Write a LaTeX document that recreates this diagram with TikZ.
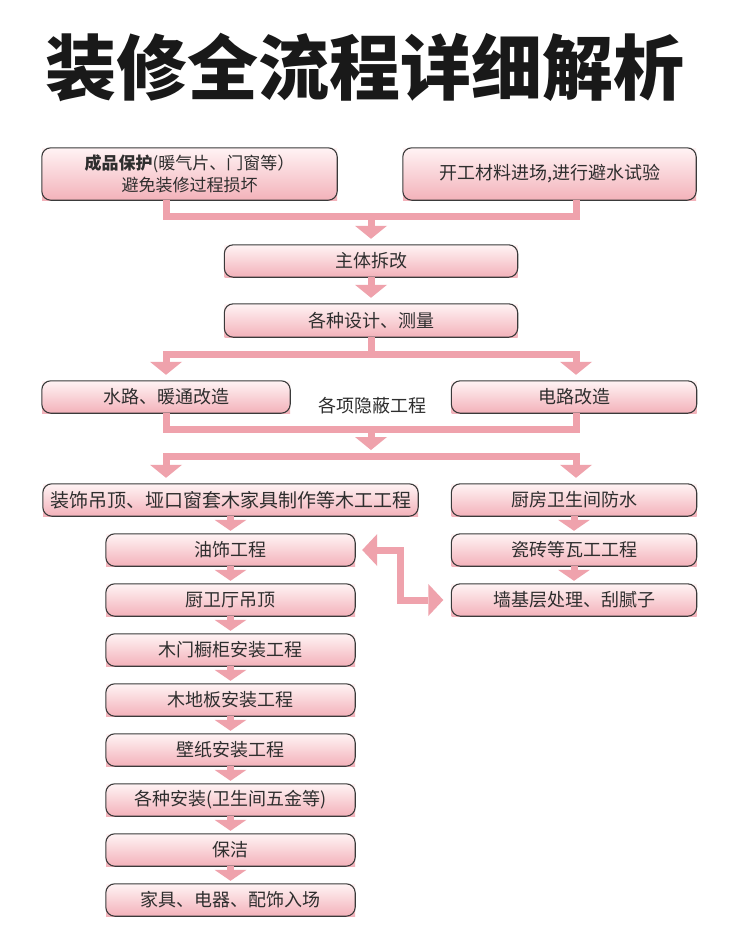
\documentclass[tikz,border=0pt]{standalone}
\usepackage{fontspec}
\newfontfamily\cjk{Noto Sans CJK SC}
\usetikzlibrary{arrows.meta,calc}
\definecolor{boxtop}{HTML}{FFF3F4}
\definecolor{boxbot}{HTML}{F3B2BA}
\definecolor{conn}{HTML}{EFA2AC}
\definecolor{txt}{HTML}{2E2E2E}
\definecolor{edge}{HTML}{3A3A3A}
\begin{document}
\begin{tikzpicture}[x=1pt,y=-1pt,
  box/.style={inner sep=0pt, minimum height=32pt, top color=boxtop, bottom color=boxbot,
    text=txt, font=\cjk\fontsize{18}{22}\selectfont, align=center},
  outline/.style={draw=edge, line width=1.1pt, rounded corners=9pt},
  link/.style={draw=conn, line width=7pt},
  arr/.style={link, -{Triangle[width=32pt,length=13pt,line width=0pt]}, shorten >=6pt},
  sarr/.style={link, -{Triangle[width=32pt,length=11pt,line width=0pt]}, shorten >=3pt},
  dbl/.style={link, {Triangle[width=32pt,length=15pt,line width=0pt]}-{Triangle[width=32pt,length=15pt,line width=0pt]}, shorten <=7pt, shorten >=8pt},
  title/.style={font=\cjk\bfseries\fontsize{71}{80}\selectfont, text=black!90}
]
\useasboundingbox (0,0) rectangle (750,942);
\fill[white] (0,0) rectangle (750,942);

\node[title] (title) at (365,68) {装修全流程详细解析};

\node[box, minimum width=295pt, minimum height=52pt, font=\cjk\fontsize{17}{22}\selectfont] (b1) at (189.5,174) {\textbf{成品保护}(暖气片、门窗等）\\避免装修过程损坏};
\node[box, minimum width=293pt, minimum height=52pt] (b2) at (549.5,174) {开工材料进场,进行避水试验};
\node[box, minimum width=293pt] (b3) at (371,261) {主体拆改};
\node[box, minimum width=293pt, minimum height=33pt] (b4) at (371,320.5) {各种设计、测量};
\node[box, minimum width=248pt] (b5) at (166,397) {水路、暖通改造};
\node[box, minimum width=245pt] (b6) at (574,397) {电路改造};
\node[text=txt, font=\cjk\fontsize{18}{22}\selectfont] (hid) at (372,406) {各项隐蔽工程};
\node[box, minimum width=375pt, font=\cjk\fontsize{19}{22}\selectfont] (b7) at (230.5,500) {装饰吊顶、垭口窗套木家具制作等木工工程};
\node[box, minimum width=245pt] (b8) at (574,500) {厨房卫生间防水};
\node[box, minimum width=249pt] (b9) at (230.5,550) {油饰工程};
\node[box, minimum width=245pt] (b10) at (574,550) {瓷砖等瓦工工程};
\node[box, minimum width=245pt] (b11) at (574,600) {墙基层处理、刮腻子};
\node[box, minimum width=249pt] (b12) at (230.5,600) {厨卫厅吊顶};
\node[box, minimum width=249pt] (b13) at (230.5,650) {木门橱柜安装工程};
\node[box, minimum width=249pt] (b14) at (230.5,700) {木地板安装工程};
\node[box, minimum width=249pt] (b15) at (230.5,750) {壁纸安装工程};
\node[box, minimum width=249pt] (b16) at (230.5,800) {各种安装(卫生间五金等)};
\node[box, minimum width=249pt] (b17) at (230.5,850) {保洁};
\node[box, minimum width=249pt] (b18) at (230.5,900) {家具、电器、配饰入场};

\foreach \n in {b1,b2,b3,b4,b5,b6,b7,b8,b9,b10,b11,b12,b13,b14,b15,b16,b17,b18}
  \draw[outline] (\n.north west) rectangle (\n.south east);

\coordinate (Lc) at (166,0);
\coordinate (Rc) at (576,0);
\coordinate (j1) at (371,216);
\coordinate (s1) at (371,354);
\coordinate (m1) at (371,429);
\coordinate (s2) at (371,456);
\coordinate (dj) at (400,575);

% top merge
\draw[link] (b1.south -| Lc) |- (j1) -| (b2.south -| Rc);
\draw[arr] (j1) -- (j1 |- b3.north);
\draw[arr] (b3.south) -- (b4.north);
% split 1
\draw[link] (b4.south) -- (s1);
\draw[arr] (s1) -| (b5.north -| Lc);
\draw[arr] (s1) -| (b6.north -| Rc);
% merge 2
\draw[link] (b5.south -| Lc) |- (m1) -| (b6.south -| Rc);
\draw[arr] (m1) -- (s2);
% split 2
\draw[arr] (s2) -| (b7.north -| Lc);
\draw[arr] (s2) -| (b8.north -| Rc);
% left column
\draw[sarr] (b7.south) -- (b9.north);
\draw[sarr] (b9.south) -- (b12.north);
\draw[sarr] (b12.south) -- (b13.north);
\draw[sarr] (b13.south) -- (b14.north);
\draw[sarr] (b14.south) -- (b15.north);
\draw[sarr] (b15.south) -- (b16.north);
\draw[sarr] (b16.south) -- (b17.north);
\draw[sarr] (b17.south) -- (b18.north);
% right column
\draw[sarr] (b8.south) -- (b10.north);
\draw[sarr] (b10.south) -- (b11.north);
% double arrow
\draw[dbl] (b9.east) -| (dj) |- (b11.west);
\end{tikzpicture}
\end{document}
